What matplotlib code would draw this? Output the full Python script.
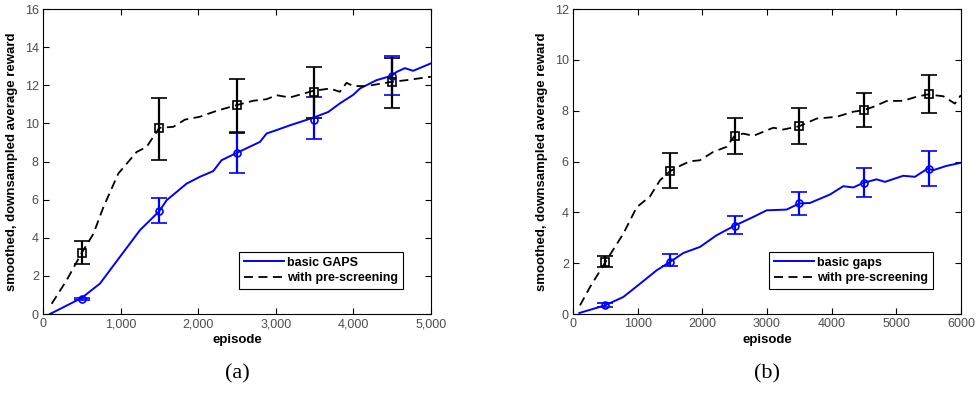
import matplotlib
matplotlib.use("Agg")
import matplotlib.pyplot as plt
import numpy as np

# ---- (a) ----
a_basic_x = [90, 498, 735, 992, 1250, 1500, 1594, 1851, 2023, 2195, 2302, 2496, 2797, 2882,
             3011, 3183, 3484, 3677, 3827, 3999, 4085, 4300, 4493, 4558, 4665, 4772, 5000]
a_basic_y = [0.0, 0.84, 1.6, 3.0, 4.4, 5.4, 5.97, 6.84, 7.2, 7.5, 8.07, 8.45, 9.03, 9.47,
             9.65, 9.9, 10.3, 10.6, 11.05, 11.5, 11.83, 12.27, 12.5, 12.7, 12.9, 12.76, 13.15]
a_pre_x = [112, 305, 498, 649, 778, 971, 1207, 1336, 1500, 1680, 1830, 2023, 2238, 2496,
           2711, 2882, 3011, 3183, 3484, 3698, 3827, 3913, 3999, 4171, 4493, 4686, 5000]
a_pre_y = [0.54, 1.77, 3.2, 4.2, 5.6, 7.37, 8.5, 8.77, 9.77, 9.82, 10.2, 10.35, 10.66, 10.96,
           11.19, 11.27, 11.48, 11.36, 11.71, 11.83, 11.66, 12.13, 11.96, 11.96, 12.18, 12.27, 12.45]
a_err_x = [500, 1500, 2500, 3500, 4500]
a_basic_mid = [0.8, 5.4, 8.45, 10.2, 12.5]
a_basic_lo = [0.75, 4.75, 7.4, 9.2, 11.5]
a_basic_hi = [0.85, 6.1, 9.55, 11.4, 13.55]
a_pre_mid = [3.2, 9.75, 10.95, 11.65, 12.15]
a_pre_lo = [2.65, 8.1, 9.5, 10.3, 10.8]
a_pre_hi = [3.85, 11.35, 12.35, 12.95, 13.45]

# ---- (b) ----
b_basic_x = [98, 495, 778, 1036, 1294, 1500, 1706, 1964, 2222, 2495, 2789, 2995, 3304, 3500,
             3665, 3974, 4180, 4335, 4490, 4697, 4825, 5108, 5289, 5485, 5572, 5778, 6000]
b_basic_y = [0.04, 0.34, 0.67, 1.19, 1.72, 2.05, 2.4, 2.64, 3.1, 3.47, 3.82, 4.08, 4.11, 4.35,
             4.37, 4.7, 5.03, 4.98, 5.16, 5.3, 5.2, 5.44, 5.4, 5.72, 5.66, 5.83, 5.95]
b_pre_x = [108, 263, 495, 778, 985, 1191, 1345, 1500, 1680, 1809, 1964, 2170, 2377, 2495, 2634,
           2789, 3098, 3253, 3500, 3768, 4077, 4335, 4490, 4644, 4851, 5108, 5314, 5485, 5727, 5907, 6000]
b_pre_y = [0.34, 1.06, 2.02, 3.16, 4.2, 4.63, 5.26, 5.62, 5.86, 6.01, 6.05, 6.38, 6.58, 7.0, 7.1,
           7.01, 7.33, 7.26, 7.39, 7.69, 7.76, 7.96, 8.02, 8.15, 8.38, 8.39, 8.55, 8.64, 8.57, 8.28, 8.61]
b_err_x = [500, 1500, 2500, 3500, 4500, 5500]
b_basic_mid = [0.35, 2.05, 3.47, 4.35, 5.15, 5.7]
b_basic_lo = [0.28, 1.9, 3.15, 3.9, 4.6, 5.05]
b_basic_hi = [0.42, 2.35, 3.85, 4.8, 5.75, 6.4]
b_pre_mid = [2.05, 5.62, 7.0, 7.38, 8.02, 8.65]
b_pre_lo = [1.85, 4.95, 6.3, 6.7, 7.35, 7.9]
b_pre_hi = [2.3, 6.35, 7.7, 8.1, 8.7, 9.4]

tick_font = {"family": "Liberation Sans", "size": 9}


def draw_panel(ax, bx, by, px, py, ex, bmid, blo, bhi, pmid, plo, phi,
               basic_label, xmax, ymax, xticks, yticks, xticklabels, letter):
    ax.plot(bx, by, color="blue", lw=1.4, label=basic_label)
    ax.plot(px, py, color="black", lw=1.3, ls=(0, (5, 3)), label="with pre-screening")
    bmid, blo, bhi = map(np.asarray, (bmid, blo, bhi))
    pmid, plo, phi = map(np.asarray, (pmid, plo, phi))
    ax.errorbar(ex, bmid, yerr=[bmid - blo, bhi - bmid], fmt="o", color="blue",
                mfc="none", ms=5, mew=1.2, elinewidth=1.6, capsize=5.5, capthick=1.6)
    ax.errorbar(ex, pmid, yerr=[pmid - plo, phi - pmid], fmt="s", color="black",
                mfc="none", ms=6, mew=1.2, elinewidth=1.6, capsize=5.5, capthick=1.6)
    ax.set_xlim(0, xmax)
    ax.set_ylim(0, ymax)
    ax.set_xticks(xticks)
    ax.set_xticklabels(xticklabels, fontdict=tick_font, color="0.3")
    ax.set_yticks(yticks)
    ax.set_yticklabels([str(v) for v in yticks], fontdict=tick_font, color="0.3")
    ax.tick_params(direction="in", top=True, right=True, length=4, width=0.8, pad=3)
    for s in ax.spines.values():
        s.set_linewidth(0.8)
    ax.set_xlabel("episode", fontsize=9.5, fontweight="bold",
                  family="Liberation Sans", labelpad=3)
    ax.set_ylabel("smoothed, downsampled average reward", fontsize=9.5, fontweight="bold",
                  family="Liberation Sans", labelpad=5)
    leg = ax.legend(loc="lower right", bbox_to_anchor=(0.945, 0.06), fancybox=False,
                    framealpha=1, edgecolor="black", handlelength=3.2, handletextpad=0.3,
                    borderpad=0.4, labelspacing=0.3,
                    prop={"family": "Liberation Sans", "size": 9, "weight": "bold"})
    leg.get_frame().set_linewidth(0.8)
    ax.text(0.5, -0.165, letter, transform=ax.transAxes, ha="center", va="top",
            fontsize=16, family="Liberation Serif")


fig = plt.figure(figsize=(9.77, 3.94), dpi=100)
ax1 = fig.add_axes([0.044, 0.203, 0.397, 0.774])
ax2 = fig.add_axes([0.5865, 0.203, 0.397, 0.774])

draw_panel(ax1, a_basic_x, a_basic_y, a_pre_x, a_pre_y, a_err_x,
           a_basic_mid, a_basic_lo, a_basic_hi, a_pre_mid, a_pre_lo, a_pre_hi,
           "basic GAPS", 5000, 16, [0, 1000, 2000, 3000, 4000, 5000],
           list(range(0, 17, 2)), ["0", "1,000", "2,000", "3,000", "4,000", "5,000"], "(a)")
draw_panel(ax2, b_basic_x, b_basic_y, b_pre_x, b_pre_y, b_err_x,
           b_basic_mid, b_basic_lo, b_basic_hi, b_pre_mid, b_pre_lo, b_pre_hi,
           "basic gaps", 6000, 12, list(range(0, 6001, 1000)),
           list(range(0, 13, 2)), [str(v) for v in range(0, 6001, 1000)], "(b)")

fig.savefig("out.png", dpi=100)
